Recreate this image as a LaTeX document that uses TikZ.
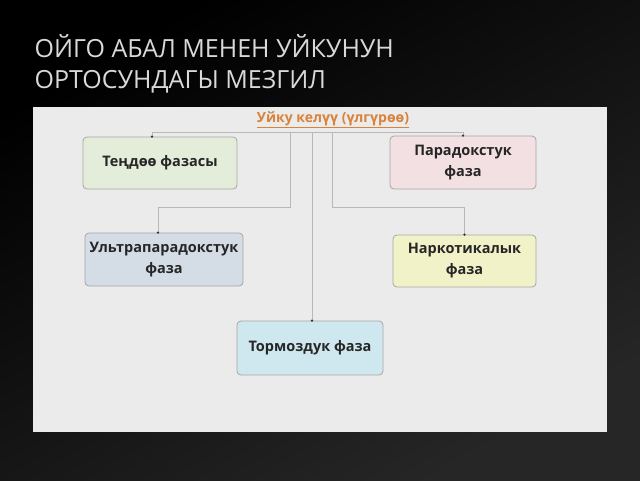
\documentclass[tikz,border=0pt]{standalone}
\usepackage{fontspec}
\setmainfont{Open Sans}
\usetikzlibrary{positioning}
\definecolor{panel}{HTML}{EBEBEB}
\definecolor{lnk}{HTML}{B8B8B8}
\definecolor{ttl}{HTML}{D9823A}
\tikzset{
  phase/.style={draw=gray!70,rounded corners=4pt,line width=0.8pt,align=center,
    font=\bfseries\fontsize{14.5}{21}\selectfont,text=black!85,inner sep=0pt},
  lnk/.style={draw=lnk,line width=0.6pt},
  dot/.style={circle,fill=black!80,inner sep=0.9pt}
}
\begin{document}
\begin{tikzpicture}[x=1pt,y=-1pt]
\shade[top color=black,bottom color=black!85!white,shading angle=30] (0,0) rectangle (640,480);
\useasboundingbox (0,0) rectangle (640,480);
\node[anchor=west,text=white!85!black,font=\fontsize{25}{31}\selectfont,align=left] (head) at (31,64) {ОЙГО АБАЛ МЕНЕН УЙКУНУН\\ОРТОСУНДАГЫ МЕЗГИЛ};
\fill[panel] (33,107) rectangle (607,432);
\node[font=\bfseries\fontsize{14}{16}\selectfont,text=ttl] (root) at (333,120) {\underline{Уйку келүү (үлгүрөө)}};
\node[phase,fill={rgb,255:red,228;green,237;blue,217},minimum width=154,minimum height=52] (a) at (160,163) {Теңдөө фазасы};
\node[phase,fill={rgb,255:red,242;green,224;blue,227},minimum width=146,minimum height=53] (b) at (463,162.5) {Парадокстук\\фаза};
\node[phase,fill={rgb,255:red,212;green,221;blue,230},minimum width=158,minimum height=53] (c) at (164,259.5) {Ультрапарадокстук\\фаза};
\node[phase,fill={rgb,255:red,242;green,242;blue,201},minimum width=143,minimum height=52] (d) at (464.5,261) {Наркотикалык\\фаза};
\node[phase,fill={rgb,255:red,207;green,232;blue,240},minimum width=146,minimum height=54] (e) at (310,348) {Тормоздук фаза};
% connectors
\draw[lnk] (a.north -| 152,0) -- ++(0,-4) -| (b.north);
\draw[lnk] (290,133) -- (290,207) -| (c.north -| 158,0);
\draw[lnk] (332,133) -- (332,207) -| (d.north);
\draw[lnk] (312,133) -- (e.north -| 312,0);
\node[dot] at (a.north -| 152,0) {};
\node[dot] at (b.north) {};
\node[dot] at (c.north -| 158,0) {};
\node[dot] at (d.north) {};
\node[dot] at (e.north -| 312,0) {};
\end{tikzpicture}
\end{document}
